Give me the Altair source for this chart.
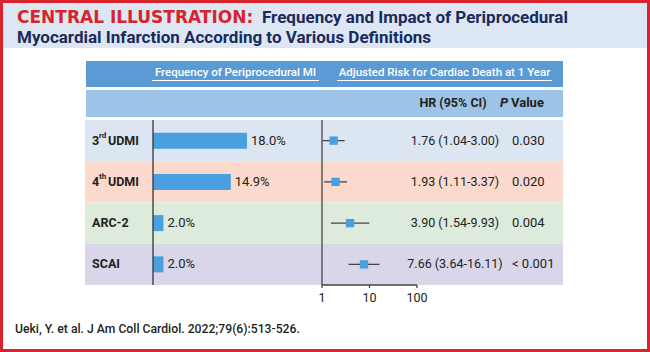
import altair as alt
import pandas as pd

# ---- data ----
definitions = ["3rd UDMI", "4th UDMI", "ARC-2", "SCAI"]
label_main = ["3", "4", "ARC-2", "SCAI"]
label_sup = ["rd", "th", "", ""]
label_rest = ["UDMI", "UDMI", "", ""]
frequency = [18.0, 14.9, 2.0, 2.0]
hr = [1.76, 1.93, 3.90, 7.66]
ci_low = [1.04, 1.11, 1.54, 3.64]
ci_high = [3.00, 3.37, 9.93, 16.11]
p_values = ["0.030", "0.020", "0.004", "< 0.001"]
hr_ticks = [1, 10, 100]
row_colors = ["#dce6f3", "#fbdacd", "#dcebdb", "#d9d6e9"]

df = pd.DataFrame({
    "definition": definitions,
    "main": label_main,
    "sup": label_sup,
    "rest": label_rest,
    "frequency": frequency,
    "hr": hr,
    "lo": ci_low,
    "hi": ci_high,
    "p": p_values,
})
df["freq_label"] = [f"{v:.1f}%" for v in frequency]
df["hr_label"] = [f"{h:.2f} ({l:.2f}-{u:.2f})" for h, l, u in zip(hr, ci_low, ci_high)]
ticks_df = pd.DataFrame({"t": hr_ticks})
one = pd.DataFrame({"k": [0]})

FONT = "Roboto"
BLUE = "#4a9fe0"
DARK = "#222222"
NAVY = "#1b2a5c"
RED = "#d7242c"

row_y = alt.Y("definition:N", sort=definitions,
              scale=alt.Scale(domain=definitions, range=[120, 285], paddingInner=0, paddingOuter=0),
              axis=None)
bar_scale = alt.Scale(domain=[0, 20], range=[153, 257.4], nice=False, zero=True)
hr_scale = alt.Scale(type="log", domain=[1, 100], range=[322, 417], nice=False)

def txt(text, x, y, **kw):
    return alt.Chart(one).mark_text(text=text, baseline="middle", **kw).encode(
        x=alt.value(x), y=alt.value(y))

layers = []

# title band
layers.append(alt.Chart(one).mark_rect(color="#dde7f4").encode(
    x=alt.value(0), x2=alt.value(650), y=alt.value(0), y2=alt.value(48)))
layers.append(txt("CENTRAL ILLUSTRATION:", 17, 18, align="left", font="DejaVu Sans",
                  fontWeight="bold", fontSize=17, color=RED))
layers.append(txt("Frequency and Impact of Periprocedural", 262, 18, align="left", font=FONT,
                  fontWeight="bold", fontSize=17, color=NAVY))
layers.append(txt("Myocardial Infarction According to Various Definitions", 17, 38, align="left",
                  font=FONT, fontWeight="bold", fontSize=17, color=NAVY))

# header rows
layers.append(alt.Chart(one).mark_rect(color="#5b9bd5").encode(
    x=alt.value(86), x2=alt.value(563), y=alt.value(61), y2=alt.value(87)))
layers.append(alt.Chart(one).mark_rect(color="#9dc3e6").encode(
    x=alt.value(86), x2=alt.value(563), y=alt.value(90), y2=alt.value(117)))
layers.append(txt("Frequency of Periprocedural MI", 235.5, 73, align="center", font=FONT,
                  fontWeight=500, fontSize=11.5, color="white"))
layers.append(txt("Adjusted Risk for Cardiac Death at 1 Year", 444.5, 73, align="center", font=FONT,
                  fontWeight=500, fontSize=11.5, color="white"))
layers.append(alt.Chart(one).mark_rule(color="white", strokeWidth=1).encode(
    x=alt.value(152), x2=alt.value(319), y=alt.value(80.5)))
layers.append(alt.Chart(one).mark_rule(color="white", strokeWidth=1).encode(
    x=alt.value(337), x2=alt.value(552), y=alt.value(80.5)))
layers.append(txt("HR (95% CI)", 453, 103, align="center", font=FONT, fontWeight="bold",
                  fontSize=12.5, color=DARK))
layers.append(txt("P", 500, 103, align="left", font=FONT, fontWeight="bold", fontStyle="italic",
                  fontSize=13, color=DARK))
layers.append(txt("Value", 511, 103, align="left", font=FONT, fontWeight="bold",
                  fontSize=13, color=DARK))

# row backgrounds
layers.append(alt.Chart(df).mark_rect().encode(
    x=alt.value(85), x2=alt.value(563), y=row_y,
    color=alt.Color("definition:N", scale=alt.Scale(domain=definitions, range=row_colors), legend=None)))

# row labels
layers.append(alt.Chart(df).mark_text(align="left", baseline="middle", font=FONT, fontWeight="bold",
                                      fontSize=12.5, color=DARK).encode(
    x=alt.value(92), y=row_y, text="main:N"))
layers.append(alt.Chart(df).mark_text(align="left", baseline="middle", font=FONT, fontWeight="bold",
                                      fontSize=8, dy=-4.5, color=DARK).encode(
    x=alt.value(99), y=row_y, text="sup:N"))
layers.append(alt.Chart(df).mark_text(align="left", baseline="middle", font=FONT, fontWeight="bold",
                                      fontSize=12.5, color=DARK).encode(
    x=alt.value(108), y=row_y, text="rest:N"))

# frequency bars
layers.append(alt.Chart(df).mark_bar(size=16, color=BLUE).encode(
    x=alt.X("frequency:Q", scale=bar_scale, axis=None), y=row_y))
layers.append(alt.Chart(df).mark_text(align="left", baseline="middle", dx=4, font=FONT,
                                      fontSize=13, color=DARK).encode(
    x=alt.X("frequency:Q", scale=bar_scale, axis=None), y=row_y, text="freq_label:N"))
layers.append(alt.Chart(one).mark_rule(color="#333333", strokeWidth=1.3).encode(
    x=alt.X("k:Q", scale=bar_scale, axis=None), y=alt.value(120), y2=alt.value(285)))

# forest plot
layers.append(alt.Chart(df).mark_rule(color="#444444", strokeWidth=1.3).encode(
    x=alt.X("lo:Q", scale=hr_scale, axis=None), x2="hi:Q", y=row_y))
layers.append(alt.Chart(df).mark_square(size=70, color=BLUE, opacity=1).encode(
    x=alt.X("hr:Q", scale=hr_scale, axis=None), y=row_y))
layers.append(alt.Chart(ticks_df).mark_rule(color="#444444", strokeWidth=1.3).encode(
    x=alt.X("min(t):Q", scale=hr_scale, axis=None), y=alt.value(120), y2=alt.value(285)))
layers.append(alt.Chart(ticks_df).mark_rule(color="#444444", strokeWidth=1.3).encode(
    x=alt.X("min(t):Q", scale=hr_scale, axis=None), x2="max(t):Q", y=alt.value(285)))
layers.append(alt.Chart(ticks_df).mark_rule(color="#444444", strokeWidth=1.3).encode(
    x=alt.X("t:Q", scale=hr_scale, axis=None), y=alt.value(285), y2=alt.value(288)))
layers.append(alt.Chart(ticks_df).mark_text(align="center", baseline="middle", font=FONT,
                                            fontSize=12.5, color=DARK).encode(
    x=alt.X("t:Q", scale=hr_scale, axis=None), y=alt.value(298), text="t:N"))

# HR and P value columns
layers.append(alt.Chart(df).mark_text(align="center", baseline="middle", font=FONT,
                                      fontSize=12.5, color=DARK).encode(
    x=alt.value(455), y=row_y, text="hr_label:N"))
layers.append(alt.Chart(df).mark_text(align="left", baseline="middle", font=FONT,
                                      fontSize=13, color=DARK).encode(
    x=alt.value(512), y=row_y, text="p:N"))

# citation
layers.append(txt("Ueki, Y. et al. J Am Coll Cardiol. 2022;79(6):513-526.", 15, 329, align="left",
                  font=FONT, fontWeight=500, fontSize=12.2, color="#231f20"))

# red frame
layers.append(alt.Chart(one).mark_rect(fillOpacity=0, stroke=RED, strokeWidth=3).encode(
    x=alt.value(1.5), x2=alt.value(648.5), y=alt.value(1.5), y2=alt.value(350.5)))

chart = alt.layer(*layers).resolve_scale(
    x="independent", y="independent", color="independent"
).properties(
    width=650, height=352, autosize="none", padding=0, background="white"
).configure_view(stroke=None)

chart.save("out.html", embed_options={"renderer": "svg", "actions": False})
